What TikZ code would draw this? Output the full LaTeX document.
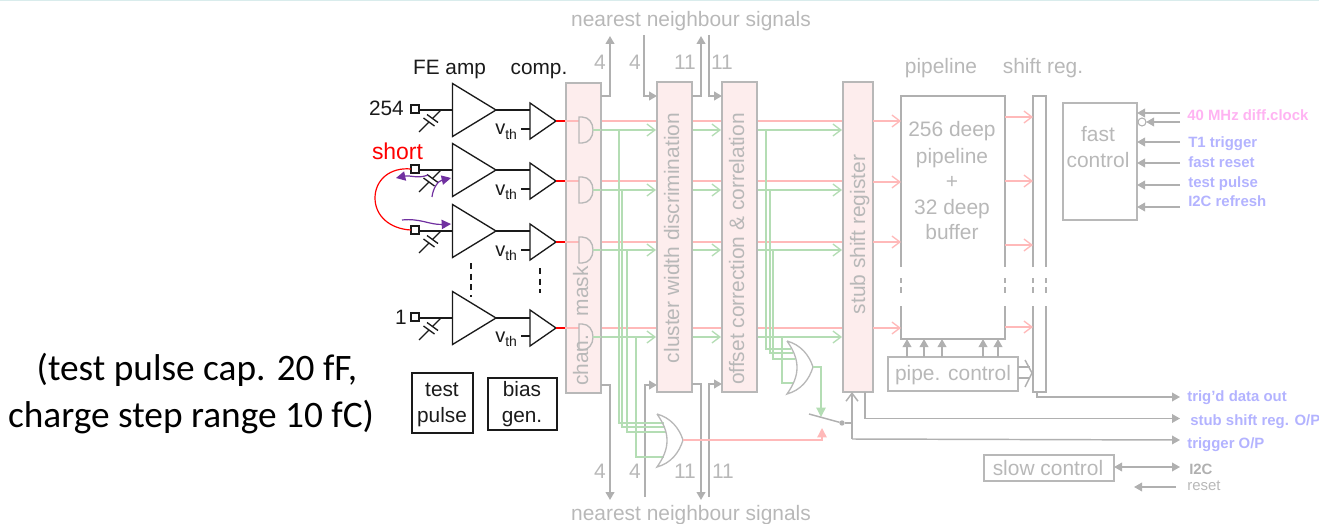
\documentclass[tikz,border=0pt]{standalone}
\usepackage{fontspec}
\setmainfont{Liberation Sans}
\newfontfamily\calfont{Carlito}
\usetikzlibrary{arrows.meta,calc}
\definecolor{lgray}{HTML}{B8B8B8}
\definecolor{agray}{HTML}{B0B0B0}
\definecolor{pinkfill}{HTML}{FDEDED}
\definecolor{pinkline}{HTML}{FFB9B9}
\definecolor{greenline}{HTML}{B4DDB4}
\definecolor{bluetxt}{HTML}{B3B3FF}
\definecolor{clktxt}{HTML}{FFB3F2}
\definecolor{purp}{HTML}{7030A0}
\definecolor{blk}{HTML}{1A1A1A}
\newcommand{\pxbox}[6][]{\node[#2,minimum width={(#5-#3)*0.75pt},minimum height={(#6-#4)*0.75pt},#1] at ({(#3+#5)/2},{(#4+#6)/2})}
\tikzset{
  x=0.75pt,y=-0.75pt,
  graybox/.style={draw=lgray,line width=1.1pt,inner sep=0pt,outer sep=0pt},
  pinkbox/.style={graybox,fill=pinkfill},
  blackbox/.style={draw=blk,line width=1.1pt,inner sep=0pt,outer sep=0pt},
  blackln/.style={draw=blk,line width=1pt},
  grayln/.style={draw=agray,line width=1.1pt},
  thickln/.style={draw=agray,line width=1.5pt},
  redln/.style={draw=pinkline,line width=1pt},
  grnln/.style={draw=greenline,line width=1pt},
  purpln/.style={draw=purp,line width=0.9pt,-{Triangle[length=7pt,width=7pt]}},
  tipfill/.style={-{Triangle[length=6pt,width=6.5pt]}},
  tipopen/.style={-{Straight Barb[length=6pt,width=9pt]}},
  txtgray/.style={text=lgray,font=\fontsize{15.7}{18}\selectfont,inner sep=0pt,anchor=base},
  txtblack/.style={text=blk,font=\fontsize{15.6}{18}\selectfont,inner sep=0pt,anchor=base},
  txtblue/.style={text=bluetxt,font=\fontsize{11.2}{13}\bfseries\selectfont,inner sep=0pt,anchor=base west},
  txtside/.style={txtgray,rotate=90},
  calibri/.style={text=black,font=\calfont\fontsize{28}{32}\selectfont,inner sep=0pt,anchor=base},
}
\begin{document}
\begin{tikzpicture}
\useasboundingbox (0,0) rectangle (1319,524);
\coordinate (tl) at (0,0.5);
\coordinate (tr) at (1319,0.5);
\draw[draw=teal!15,line width=0.8pt] (tl) -- (tr);

\coordinate (busTopA) at (610,36);
\coordinate (busTopB) at (644,35);
\coordinate (busTopC) at (701,36);
\coordinate (busTopD) at (709,35);
\coordinate (busBotA) at (610,500);
\coordinate (busBotB) at (645,497);
\coordinate (busBotC) at (701,500);
\coordinate (busBotD) at (709,497);

% red and green signal lines run behind the boxes
\foreach \c in {121,181,242,328}{
  \draw[redln] (601,\c) -- (843,\c);
}
\foreach \g in {130,190,250,337}{
  \draw[grnln,tipopen] (593,\g) -- (656,\g);
  \draw[grnln,tipopen] (692,\g) -- (721,\g);
  \draw[grnln,tipopen] (757,\g) -- (842,\g);
}

% boxes
\pxbox[]{pinkbox}{566}{83}{601}{393} (mask) {};
\pxbox[]{pinkbox}{657}{82}{692}{392} (cluster) {};
\pxbox[]{pinkbox}{722}{82}{757}{392} (offset) {};
\pxbox[]{pinkbox}{843}{82}{873}{392} (stub) {};
\pxbox[]{graybox}{888}{357}{1018}{391} (pipectl) {};
\pxbox[]{graybox}{1063}{103}{1137}{220} (fast) {};
\pxbox[]{graybox}{984}{455}{1114}{481} (slow) {};
\pxbox[]{blackbox}{412}{373}{473}{433} (testbox) {};
\pxbox[]{blackbox}{488}{378}{557}{430} (biasbox) {};
\pxbox[draw=none]{inner sep=0pt,outer sep=0pt}{901}{96}{1005}{339} (pipe) {};
\pxbox[draw=none]{inner sep=0pt,outer sep=0pt}{1033}{96}{1046}{392} (shreg) {};

% rotated labels
\node[txtside] (lmask) at (588,326) {chan.\hspace{14pt}mask};
\node[txtside] (lcluster) at (679,238) {cluster width discrimination};
\node[txtside] (loffset) at (744,249) {offset correction \& correlation};
\node[txtside] (lstub) at (865,234.5) {stub shift register};

% pipeline outline with its breaks
\draw[grayln] (pipe.west |- 0,267) -- (pipe.north west) -- (pipe.north east) -- (pipe.east |- 0,267);
\draw[grayln] (pipe.west |- 0,306) -- (pipe.south west) -- (pipe.south east) -- (pipe.east |- 0,306);
\draw[grayln] (shreg.west |- 0,267) -- (shreg.north west) -- (shreg.north east) -- (shreg.east |- 0,267);
\draw[grayln] (shreg.west |- 0,306) -- (shreg.south west) -- (shreg.south east) -- (shreg.east |- 0,306);
\foreach \sx in {pipe.west,pipe.east,shreg.west,shreg.east}{
  \draw[grayln] (\sx |- 0,278) -- (\sx |- 0,283);
  \draw[grayln] (\sx |- 0,287) -- (\sx |- 0,293);
}

% channels
\foreach \n/\a/\c/\g in {A/110/121/130,B/170/181/190,C/231/242/250,D/318/328/337}{
  \node[draw=blk,line width=0.8pt,inner sep=0pt,minimum size=6pt,outer sep=0pt] (pad\n) at (415,\a-1) {};
  \coordinate (ampin\n) at (452.5,\a);
  \coordinate (ampout\n) at (496,\a);
  \coordinate (cmpin\n) at (530,\a);
  \coordinate (cmpout\n) at (556,\c);
  \coordinate (gatein\n) at (579,\c);
  \coordinate (gateout\n) at (593,\g);
  \draw[blackln] (452.5,\a-26.5) -- (ampout\n) -- (452.5,\a+26.5) -- cycle;
  \draw[blackln] (530,\c-18) -- (cmpout\n) -- (530,\c+18) -- cycle;
  \draw[blackln] (pad\n.east |- ampin\n) -- (ampin\n);
  \draw[blackln] (ampout\n) -- (cmpin\n);
  \draw[blackln] (521,\c+8) -- (530,\c+8);
  % capacitor
  \draw[blackln] (441,\a) -- (432.5,\a+8.5);
  \draw[blackln] (429,\a+12) -- (419,\a+22);
  \draw[blackln] (427,\a+4.5) -- (438,\a+12.5);
  \draw[blackln] (423.5,\a+8) -- (434.5,\a+16);
  \draw[draw=red,line width=1.1pt] (cmpout\n) -- (565,\c);
  \draw[redln] (565,\c) -- (gatein\n);
  % AND gate
  \draw[draw=lgray,line width=1pt] (579,\g-13) -- (582,\g-13) .. controls (589,\g-13) and (593,\g-7) .. (gateout\n) .. controls (593,\g+7) and (589,\g+13) .. (582,\g+13) -- (579,\g+13) -- cycle;
  \draw[grnln] (gateout\n) -- (601,\g);
  \node[text=blk,font=\fontsize{15}{18}\selectfont,inner sep=0pt,anchor=base west] (vth\n) at (495,\c+14) {v\raisebox{-3.2pt}{\fontsize{10.5}{12}\selectfont th}};
}
\draw[blackln,dash pattern=on 4.5pt off 3.5pt] (471,263) -- (471,297);
\draw[blackln,dash pattern=on 4.5pt off 3.5pt] (540,268) -- (540,293);

% short
\draw[draw=red,line width=0.9pt] (padB.west) .. controls (390,167) and (375,180) .. (375,198) .. controls (375,216) and (390,229) .. (padC.west);
\coordinate (pa1) at (428,175);
\coordinate (pa2) at (396,178);
\coordinate (pb1) at (432,197);
\coordinate (pb2) at (451,178);
\coordinate (pc1) at (402,220);
\coordinate (pc2) at (451,224);
\draw[purpln] (pa1) .. controls (418,179) and (410,175) .. (pa2);
\draw[purpln] (pb1) .. controls (433,188) and (438,181) .. (pb2);
\draw[purpln] (pc1) .. controls (420,218) and (430,225) .. (pc2);

% neighbour buses
\draw[thickln,tipfill] (mask.east |- 0,96) -| (busTopA);
\draw[thickln,tipfill] (busTopB) |- (cluster.west |- 0,96);
\draw[thickln,tipfill] (cluster.east |- 0,96) -| (busTopC);
\draw[thickln,tipfill] (busTopD) |- (offset.west |- 0,96);
\draw[thickln,tipfill] (mask.east |- 0,385) -| (busBotA);
\draw[thickln,tipfill] (busBotB) |- (cluster.west |- 0,385);
\draw[thickln,tipfill] (cluster.east |- 0,384) -| (busBotC);
\draw[thickln,tipfill] (busBotD) |- (offset.west |- 0,384);

% green buses into the OR gates
\coordinate (orAout) at (683,440);
\coordinate (orBout) at (813,367);
\foreach \vx/\sy/\ey/\ex in {619/130/423/664,622/190/427/665,627/250/432/666,636/337/457/664,766/130/349/791,770/190/353/793,773/250/359/795,782/337/383/793}{
  \draw[grnln] (\vx,\sy) -- (\vx,\ey) -- (\ex,\ey);
}
% OR gates
\foreach \ox/\oy/\nm in {657/414/orAout,787/341/orBout}{
  \draw[draw=lgray,line width=1pt] (\ox,\oy) .. controls (\ox+7,\oy+10) and (\ox+10,\oy+18) .. (\ox+10,\oy+26.5) .. controls (\ox+10,\oy+35) and (\ox+7,\oy+43) .. (\ox,\oy+53) .. controls (\ox+14,\oy+49) and (\ox+22,\oy+39) .. (\nm) .. controls (\ox+22,\oy+14) and (\ox+14,\oy+4) .. (\ox,\oy);
}
% switch
\coordinate (swred) at (822,428);
\coordinate (swgrn) at (821,417);
\coordinate (swarm) at (809,414);
\node[circle,fill=agray,inner sep=0pt,minimum size=4pt,outer sep=0pt] (swdot) at (842,423) {};
\draw[grnln,-{Triangle[length=7pt,width=7pt]}] (orBout) -| (swgrn);
\draw[redln,-{Triangle[length=7pt,width=7pt]}] (orAout) -| (swred);
\draw[grayln] (swarm) -- (swdot);
\coordinate (trigjoin) at (852,439);
\coordinate (trigend) at (1180,440);
\coordinate (stubend) at (1180,418.5);
\coordinate (dataend) at (1180,397);
\draw[grayln] (swdot) -- (852,423);
\draw[grayln,tipopen] (trigjoin) -- (stub.south -| trigjoin);
\draw[grayln,tipfill] (trigjoin) -- (trigend);
\draw[grayln,tipfill] (stub.south -| 865,0) |- (stubend);
\draw[grayln,tipfill] (shreg.south -| 1037,0) |- (dataend);

% pipeline arrows
\foreach \c in {121,182,242,328}{
  \draw[redln,tipopen] (stub.east |- 0,\c) -- (pipe.west |- 0,\c);
}
\foreach \c in {117,181,245,327}{
  \draw[redln,tipopen] (pipe.east |- 0,\c) -- (shreg.west |- 0,\c);
}
\foreach \x in {907,924,942,983,998}{
  \draw[grayln,tipfill] (pipectl.north -| \x,0) -- (pipe.south -| \x,0);
}
\coordinate (pctlhead) at (1032,373);
\draw[grayln] (pipectl.east |- 0,367) -- (1030,367);
\draw[grayln] (pipectl.east |- 0,378) -- (1030,378);
\draw[grayln] (1025,360) -- (pctlhead) -- (1025,387);

% fast control inputs
\node[circle,draw=agray,line width=0.8pt,inner sep=0pt,minimum size=6pt,outer sep=0pt] (clkbub) at (1142,122) {};
\coordinate (clkA) at (1180,113);
\coordinate (clkB) at (1180,122);
\draw[grayln,tipfill] (clkA) -- (fast.east |- clkA);
\draw[grayln,tipfill] (clkB) -- (clkbub.east);
\foreach \y in {142,163,185,207}{
  \draw[grayln,tipfill] (1180,\y) -- (fast.east |- 0,\y);
}
% slow control
\coordinate (i2cend) at (1180,467);
\coordinate (rststart) at (1176,487);
\coordinate (rstend) at (1134,487);
\draw[grayln,{Triangle[length=6pt,width=6.5pt]}-{Triangle[length=6pt,width=6.5pt]}] (slow.east |- i2cend) -- (i2cend);
\draw[grayln,tipfill] (rststart) -- (rstend);

% labels
\node[txtgray] (nnTop) at (691,26.5) {nearest neighbour signals};
\node[txtgray] (nnBot) at (691,520) {nearest neighbour signals};
\node[txtgray] (t4a) at (600,70) {4};
\node[txtgray] (t4b) at (635,70) {4};
\node[txtgray] (t11a) at (685,70) {11};
\node[txtgray] (t11b) at (722,70) {11};
\node[txtgray] (b4a) at (600,478) {4};
\node[txtgray] (b4b) at (635,478) {4};
\node[txtgray] (b11a) at (685,478) {11};
\node[txtgray] (b11b) at (723,478) {11};
\node[txtgray] (lpipeline) at (941,74) {pipeline};
\node[txtgray] (lshift) at (1043,74) {shift reg.};
\node[txtgray] (pa) at (952,137) {256 deep};
\node[txtgray] (pb) at (952,163) {pipeline};
\node[txtgray] (pc) at (952,188) {+};
\node[txtgray] (pd) at (952,214) {32 deep};
\node[txtgray] (pe) at (952,239) {buffer};
\node[txtgray] (fa) at (1098,142) {fast};
\node[txtgray] (fb) at (1098,167) {control};
\node[txtgray] (lpipectl) at (953,380) {pipe. control};
\node[txtgray] (lslow) at (1048,475) {slow control};

\node[txtblack] (lfe) at (449.5,75) {FE amp};
\node[txtblack] (lcomp) at (539,75) {comp.};
\node[txtblack,anchor=base east] (l254) at (404,116) {254};
\node[txtblack,anchor=base east] (l1) at (407,324) {1};
\node[txtblack] (tpa) at (442,396) {test};
\node[txtblack] (tpb) at (442,422) {pulse};
\node[txtblack] (bga) at (522,396) {bias};
\node[txtblack] (bgb) at (522,422) {gen.};
\node[text=red,font=\fontsize{17.2}{20}\selectfont,inner sep=0pt,anchor=base] (lshort) at (397.5,160) {short};

\node[txtblue,text=clktxt] (lclk) at (1187,121) {40 MHz diff.clock};
\node[txtblue] (lt1) at (1188,147) {T1 trigger};
\node[txtblue] (lfr) at (1188,167) {fast reset};
\node[txtblue] (ltp) at (1188,187) {test pulse};
\node[txtblue] (li2r) at (1188,206) {I2C refresh};
\node[txtblue] (ltd) at (1187,401) {trig’d data out};
\node[txtblue] (lss) at (1190,425) {stub shift reg. O/P};
\node[txtblue] (lto) at (1187,448) {trigger O/P};
\node[txtblue,text=agray] (li2c) at (1189,474) {I2C};
\node[txtblue,text=lgray,font=\fontsize{11.2}{13}\selectfont] (lrst) at (1187,490) {reset};

\node[calibri] (noteA) at (197,380) {(test pulse cap. 20 fF,};
\node[calibri] (noteB) at (191,427) {charge step range 10 fC)};
\end{tikzpicture}
\end{document}
